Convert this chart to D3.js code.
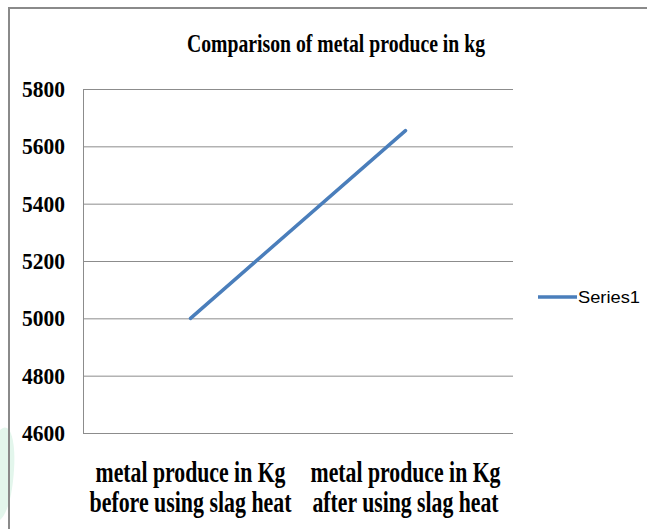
<!DOCTYPE html>
<html>
<head>
<meta charset="utf-8">
<script src="https://cdn.jsdelivr.net/npm/d3@7/dist/d3.min.js"></script>
<style>
  html, body { margin: 0; padding: 0; background: #fff; }
  svg { display: block; }
  .serif { font-family: "Liberation Serif", "Times New Roman", serif; font-weight: bold; fill: #000; }
</style>
</head>
<body>
<svg id="chart" width="647" height="529"></svg>
<script>
// Chart data
const title = "Comparison of metal produce in kg";
const categories = [
  ["metal produce in Kg", "before using slag heat"],
  ["metal produce in Kg", "after using slag heat"]
];
const seriesName = "Series1";
const values = [5000, 5655];
const yTicks = [4600, 4800, 5000, 5200, 5400, 5600, 5800];

const svg = d3.select("#chart");
const W = 647, H = 529;
const plot = { left: 83, right: 513, top: 89, bottom: 433 };

// faint green corner decoration
svg.append("path")
  .attr("d", "M0,430 C10,420 16,440 14,470 C12,500 6,515 0,520 Z")
  .attr("fill", "#e3f6ec");

// outer chart frame (top and left edges)
svg.append("path")
  .attr("d", `M9,${H} V8 H${W}`)
  .attr("fill", "none")
  .attr("stroke", "#8a8a8a")
  .attr("stroke-width", 2);

const x = d3.scaleBand()
  .domain(d3.range(categories.length))
  .range([plot.left, plot.right]);

const y = d3.scaleLinear()
  .domain([4600, 5800])
  .range([plot.bottom, plot.top]);

// horizontal gridlines
const grid = svg.append("g")
  .attr("transform", `translate(${plot.left},0)`)
  .call(d3.axisRight(y).tickValues(yTicks).tickSize(plot.right - plot.left).tickFormat(""));
grid.select(".domain").remove();
grid.selectAll("line").attr("stroke", "#8c8c8c").attr("stroke-width", 1);

// left axis line
svg.append("line")
  .attr("x1", plot.left + 0.5).attr("x2", plot.left + 0.5)
  .attr("y1", plot.top).attr("y2", plot.bottom)
  .attr("stroke", "#8c8c8c").attr("stroke-width", 1);

// y tick labels
const yAxis = svg.append("g")
  .attr("transform", `translate(65,0)`)
  .call(d3.axisLeft(y).tickValues(yTicks).tickSize(0).tickPadding(0).tickFormat(d3.format("d")));
yAxis.select(".domain").remove();
yAxis.attr("font-family", null).attr("font-size", null);
yAxis.selectAll("text")
  .attr("class", "serif")
  .attr("font-size", 23)
  .attr("textLength", 43)
  .attr("lengthAdjust", "spacingAndGlyphs")
  .attr("dy", "0.33em");

// x category labels: condensed serif, stretched vertically
const xLab = svg.append("g");
categories.forEach((lines, i) => {
  const cx = x(i) + x.bandwidth() / 2;
  lines.forEach((t, j) => {
    xLab.append("g")
      .attr("transform", `translate(${cx},${482 + j * 30}) scale(1,1.25)`)
      .append("text")
      .attr("class", "serif")
      .attr("text-anchor", "middle")
      .attr("font-size", 23)
      .attr("textLength", j === 0 ? 190 : (i === 0 ? 202 : 186))
      .attr("lengthAdjust", "spacingAndGlyphs")
      .text(t);
  });
});

// title
svg.append("text")
  .attr("class", "serif")
  .attr("x", 336).attr("y", 52)
  .attr("text-anchor", "middle")
  .attr("font-size", 25)
  .attr("textLength", 298)
  .attr("lengthAdjust", "spacingAndGlyphs")
  .text(title);

// series line
const line = d3.line()
  .x((d, i) => x(i) + x.bandwidth() / 2)
  .y(d => y(d));
svg.append("path")
  .datum(values)
  .attr("d", line)
  .attr("fill", "none")
  .attr("stroke", "#4a7ebb")
  .attr("stroke-width", 3.5)
  .attr("stroke-linecap", "round");

// legend
const lg = svg.append("g").attr("transform", "translate(538,297)");
lg.append("line")
  .attr("x1", 0).attr("x2", 39).attr("y1", 0).attr("y2", 0)
  .attr("stroke", "#4a7ebb").attr("stroke-width", 3.5);
lg.append("text")
  .attr("x", 40).attr("y", 0).attr("dy", "0.35em")
  .attr("font-family", "'Liberation Sans', Arial, sans-serif")
  .attr("font-size", 17)
  .attr("fill", "#000")
  .attr("textLength", 62)
  .attr("lengthAdjust", "spacingAndGlyphs")
  .text(seriesName);
</script>
</body>
</html>
